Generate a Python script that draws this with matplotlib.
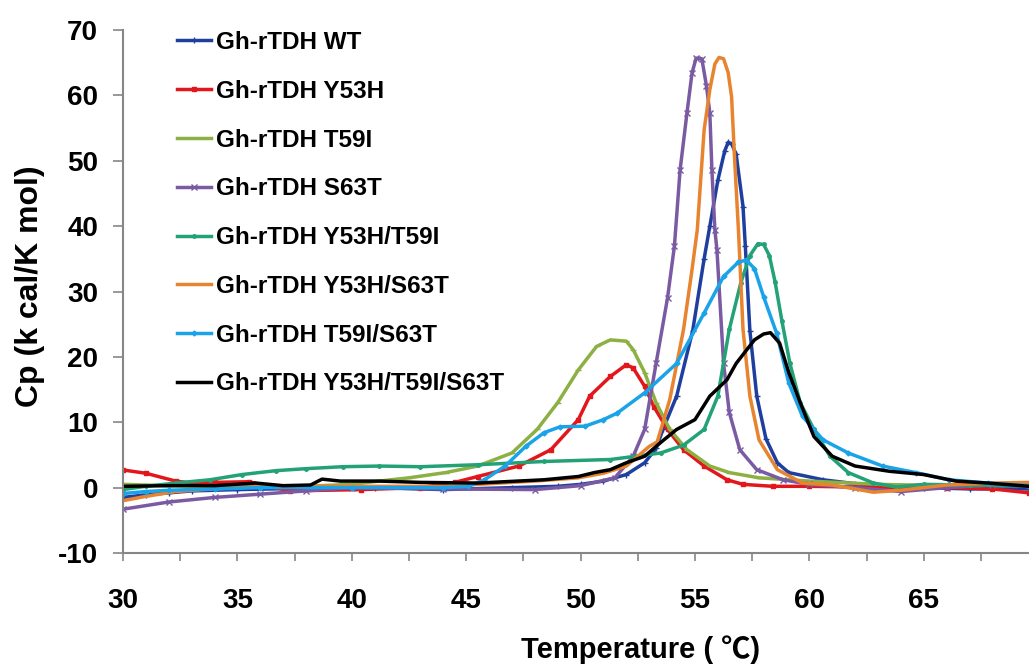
import numpy as np
import matplotlib as mpl
mpl.use('Agg')
import matplotlib.pyplot as plt
from matplotlib.ticker import FixedLocator, FuncFormatter

plt.rcParams['font.family'] = ['Liberation Sans', 'Noto Sans CJK SC', 'DejaVu Sans']
plt.rcParams['font.weight'] = 'bold'
plt.rcParams['axes.unicode_minus'] = False

# Cp curves (temperature in C, Cp in kcal/K mol)
wt_x = [30, 31, 32, 33, 35, 38, 41, 44, 47, 49, 50, 51, 52, 52.8, 53.3, 53.6, 54.2, 54.9, 55.4, 55.65,
        56.0, 56.3, 56.45, 56.6, 56.8, 57.1, 57.2, 57.4, 57.7, 58.1, 58.6, 59.1, 60.6, 62, 63, 65, 67, 69.6]
wt_y = [-1.5, -1.1, -0.8, -0.5, -0.3, -0.1, 0, -0.3, 0, 0.2, 0.5, 1.0, 2.0, 3.8, 6, 8.9, 14, 24, 35, 40,
        47, 51.5, 52.8, 52.6, 51, 43, 37, 24, 14, 7.5, 3.8, 2.3, 1.2, 0.6, 0.3, 0, -0.2, -0.2]

y53h_x = [30, 31, 32.3, 33, 34, 35.5, 37.3, 40.4, 43, 44.5, 45.5, 47.3, 48.7, 49.9, 50.4, 51.3, 52.0,
          52.3, 52.8, 53.2, 53.8, 54.5, 55.4, 56.4, 57.1, 58.4, 60, 62, 64, 66, 68, 69.6]
y53h_y = [2.7, 2.2, 1.0, 0.7, 0.8, 0.9, -0.5, -0.3, 0, 0.8, 1.7, 3.3, 5.8, 10.4, 14, 17, 18.8,
          18.3, 15.5, 12.4, 8.9, 5.8, 3.3, 1.2, 0.5, 0.2, 0.2, 0.1, 0, 0, -0.2, -0.8]

t59i_x = [30, 32, 35, 38, 40, 41.2, 42.5, 44.1, 45.5, 47.0, 48.1, 49.0, 49.9, 50.7, 51.3, 52.0, 52.3,
          52.8, 53.3, 53.9, 54.65, 55.65, 56.5, 57.8, 60, 63, 66, 69.6]
t59i_y = [0.5, 0.3, 0.2, 0.2, 0.5, 1.0, 1.5, 2.3, 3.3, 5.3, 8.9, 13, 18, 21.6, 22.6, 22.4, 21.1,
          17.6, 13, 8.9, 5.8, 3.3, 2.3, 1.5, 1.0, 0.5, 0.3, 0.7]

s63t_x = [30, 32, 34, 36, 38, 40, 44, 48, 50, 51.5, 52.3, 52.8, 53.3, 53.8, 54.1, 54.35, 54.65, 54.87,
          55.05, 55.3, 55.5, 55.65, 55.74, 55.87, 55.96, 56.25, 56.5, 56.96, 57.7, 58.85, 60, 62, 64, 66,
          68, 69.6]
s63t_y = [-3.3, -2.2, -1.5, -1.0, -0.5, 0, -0.2, -0.3, 0.3, 1.5, 4.8, 8.9, 19, 29, 36.9, 48.6, 57.3, 63.4,
          65.7, 65.6, 61.5, 57.3, 48.6, 39.4, 36.4, 19, 11.5, 5.8, 2.75, 1.2, 0.5, 0, -0.6, 0,
          0.4, 0.4]

y53h_t59i_x = [30, 31, 32.3, 33.8, 35.2, 36.7, 38, 39.6, 41.2, 43, 45.5, 48.4, 51.3, 53.5, 54.5, 55.4,
               56.0, 56.5, 57.0, 57.4, 57.75, 58.0, 58.25, 58.5, 58.8, 59.15, 59.6, 60.2, 60.9, 61.7,
               62.8, 63.8, 65, 67, 69.6]
y53h_t59i_y = [-0.3, 0.2, 0.7, 1.2, 2.0, 2.6, 2.9, 3.2, 3.3, 3.2, 3.5, 4.0, 4.3, 5.3, 6.5, 8.9,
               14, 24.2, 31.3, 35.5, 37.3, 37.2, 35.5, 31.5, 25.5, 19, 13, 8.9, 4.8, 2.3,
               0.7, 0.1, 0.5, 0.4, 0.3]

y53h_s63t_x = [30, 30.9, 32.3, 33.5, 35, 36, 40, 44, 45.5, 48, 49.9, 51, 52.0, 53.0, 53.35, 53.9, 54.5,
               54.87, 55.1, 55.4, 55.65, 55.87, 56.05, 56.25, 56.45, 56.6, 56.74, 56.9, 57.1, 57.4, 57.8,
               58.6, 59.7, 61, 62.8, 64, 66, 68, 69.6]
y53h_s63t_y = [-2.0, -1.4, -0.6, -0.3, 0, 0.2, 0.2, 0.2, 0.5, 1.0, 1.5, 2.2, 3.3, 6.3, 7, 13.5, 24.2,
               33.3, 39.4, 54.7, 60.9, 64.8, 65.8, 65.6, 63.5, 59.8, 49.7, 39.4, 24.2, 14, 7.3,
               2.75, 0.7, 0.4, -0.7, -0.4, 0.4, 0.7, 0.8]

t59i_s63t_x = [30, 31, 32, 34, 36, 40, 44, 45.1, 45.8, 46.7, 47.6, 48.4, 49.1, 50.2, 51.0, 51.6, 52.8,
               54.2, 55.4, 56.25, 56.9, 57.25, 57.6, 58.0, 58.57, 59.1, 59.7, 60.6, 61.7, 63.2, 64.65,
               66.1, 67.8, 69.6]
t59i_s63t_y = [-0.9, -0.6, -0.4, -0.2, 0, 0, 0, 0.2, 1.2, 3.3, 6.3, 8.4, 9.3, 9.4, 10.4, 11.4, 14.5,
               19, 26.7, 32.3, 34.5, 34.8, 33.5, 29.2, 23.6, 16, 10.9, 7.3, 5.3, 3.3, 2.3,
               1.2, 0.7, 0.3]

triple_x = [30, 32, 34, 35.8, 37, 38.2, 38.7, 39.5, 41.2, 43, 45.5, 48.4, 49.9, 50.6, 51.3, 52.0, 52.8,
            53.5, 54.2, 55.0, 55.65, 56.4, 56.8, 57.6, 58.0, 58.3, 58.7, 59.1, 59.6, 60.2, 61.0, 62.0,
            63.5, 65, 66.4, 67.8, 69.6]
triple_y = [0.2, 0.3, 0.3, 0.7, 0.3, 0.4, 1.3, 1.0, 1.0, 0.8, 0.7, 1.2, 1.7, 2.3, 2.75, 3.8, 4.8,
            6.9, 8.9, 10.4, 14, 16.5, 19, 22.6, 23.5, 23.7, 22.1, 17.6, 13, 7.8, 4.8, 3.3,
            2.5, 2.0, 1.0, 0.7, 0.2]

series = [
    ('Gh-rTDH WT', wt_x, wt_y, '#1f3f9f', '+', 4),
    ('Gh-rTDH Y53H', y53h_x, y53h_y, '#e3161b', 's', 3),
    ('Gh-rTDH T59I', t59i_x, t59i_y, '#8cb043', '_', 4),
    ('Gh-rTDH S63T', s63t_x, s63t_y, '#7a5ba3', 'x', 5),
    ('Gh-rTDH Y53H/T59I', y53h_t59i_x, y53h_t59i_y, '#23a277', 'o', 2.5),
    ('Gh-rTDH Y53H/S63T', y53h_s63t_x, y53h_s63t_y, '#e8842f', None, 0),
    ('Gh-rTDH T59I/S63T', t59i_s63t_x, t59i_s63t_y, '#1aa3e8', 'D', 2.5),
    ('Gh-rTDH Y53H/T59I/S63T', triple_x, triple_y, '#000000', None, 0),
]

fig = plt.figure(figsize=(10.29, 6.67), dpi=100)
ax = fig.add_axes([123/1029, 1-553/667, (1029-123)/1029, (553-30)/667])

for name, xs, ys, col, mk, ms in series:
    ax.plot(xs, ys, color=col, lw=2.5, marker=mk, markersize=ms, label=name)

ax.set_xlim(30, 69.6)
ax.set_ylim(-10, 70)

grey = '#868686'
for s in ['top', 'right']:
    ax.spines[s].set_visible(False)
for s in ['left', 'bottom']:
    ax.spines[s].set_color(grey)
    ax.spines[s].set_linewidth(1.5)

ax.xaxis.set_major_locator(FixedLocator(np.arange(30, 70, 2.5)))
ax.xaxis.set_major_formatter(FuncFormatter(lambda v, p: f"{v:.0f}" if v % 5 == 0 else ""))
ax.set_yticks(np.arange(-10, 71, 10))
ax.tick_params(axis='x', direction='out', length=6, width=1.2, color=grey, pad=19, labelsize=20)
ax.tick_params(axis='y', direction='out', length=7, width=1.2, color=grey, pad=11, labelsize=20)
for t in ax.get_xticklabels() + ax.get_yticklabels():
    t.set_fontweight('bold')

ax.set_ylabel('Cp (k cal/K mol)', fontsize=23, fontweight='bold', va='center')
ax.yaxis.set_label_coords(-0.103, 0.51)
ax.set_xlabel('Temperature ( ℃)', fontsize=21, fontweight='bold', va='center')
ax.xaxis.set_label_coords(0.571, -0.185)

ax.legend(loc='upper left', bbox_to_anchor=(177/1029, 1-31/667), bbox_transform=fig.transFigure,
          frameon=False, prop={'weight': 'bold', 'size': 17.5},
          handlelength=1.4, handletextpad=0.2, labelspacing=1.06, borderpad=0, borderaxespad=0)

fig.savefig('out.png', dpi=100)
